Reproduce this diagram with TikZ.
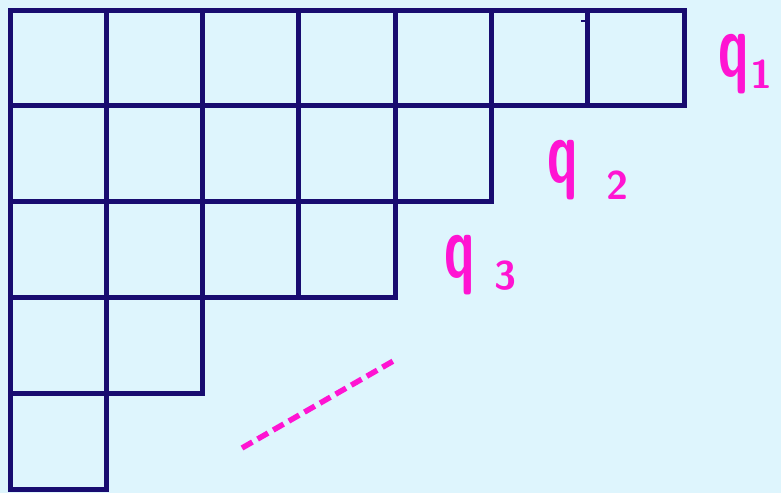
\documentclass[tikz,border=0pt]{standalone}
\usepackage{tikz}
\usetikzlibrary{positioning}
\definecolor{gridnavy}{RGB}{24,12,112}
\definecolor{inkpink}{RGB}{255,20,210}
\definecolor{paleblue}{RGB}{222,245,253}

\begin{document}
\begin{tikzpicture}[x=1pt, y=-1pt,
  cell/.style={draw=gridnavy, line width=5pt, minimum width=96.3pt, minimum height=95.8pt, inner sep=0pt, outer sep=0pt},
  qlabel/.style={text=inkpink, font=\sffamily\bfseries\fontsize{90}{90}\selectfont, xscale=0.6, inner sep=0pt},
  idx/.style={text=inkpink, font=\sffamily\bfseries\fontsize{40}{40}\selectfont, inner sep=0pt}]
  \fill[paleblue] (0,0) rectangle (781,493);
  \useasboundingbox (0,0) rectangle (781,493);
  % rows of the diagram: 7,5,4,2,1 boxes
  \foreach \r/\len in {1/7,2/5,3/4,4/2,5/1}
    \foreach \c in {1,...,\len}
      \node[cell] (c-\r-\c) at ({10+96.3*(\c-0.5)},{10+95.8*(\r-0.5)}) {};
  \draw[gridnavy, line width=2.5pt] ([xshift=-7pt,yshift=-11pt]c-1-7.north west) -- ++(5,0);
  % labels
  \node[qlabel, anchor=base] (q1) at (734,76) {q};
  \node[idx, anchor=base west] (n1) at (750,88) {1};
  \node[qlabel, anchor=base] (q2) at (563,182) {q};
  \node[idx, anchor=base west] (n2) at (606,199) {2};
  \node[qlabel, anchor=base] (q3) at (460,277) {q};
  \node[idx, anchor=base west] (n3) at (494,289) {3};
  % dots
  \coordinate (d1) at (242,448);
  \coordinate (d2) at (395,360);
  \draw[inkpink, line width=5.5pt, dash pattern=on 12pt off 6pt] (d1) -- (d2);
\end{tikzpicture}
\end{document}
